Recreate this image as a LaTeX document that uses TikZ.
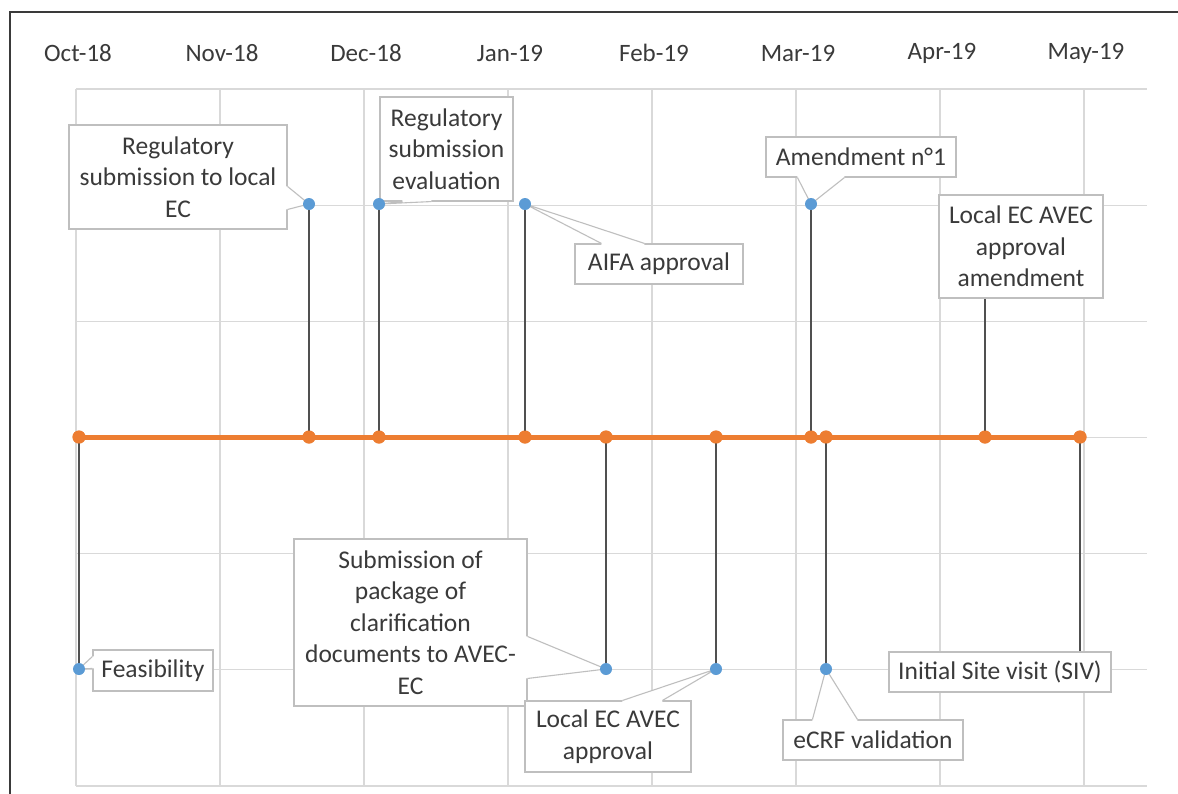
\documentclass[tikz,border=0pt]{standalone}
\usepackage{fontspec}
\setmainfont{Carlito}
\usetikzlibrary{calc}
\definecolor{orangeA}{HTML}{ED7D31}
\definecolor{blueA}{HTML}{5B9BD5}
\definecolor{gridA}{HTML}{D9D9D9}
\definecolor{boxA}{HTML}{BFBFBF}
\definecolor{stemA}{HTML}{505050}
\definecolor{txtA}{HTML}{3A3A3A}
\definecolor{frameA}{HTML}{3A3A3A}
\newcommand{\mycallptr}[4]{%
  \fill[white] ($(#1)+(#4)$) -- (#1) -- (#3) -- (#2) -- ($(#2)+(#4)$) -- cycle;
  \draw[ptr] (#1) -- (#3) -- (#2);}
\begin{document}
\begin{tikzpicture}[x=1pt,y=-1pt,
  gridline/.style={gridA, line width=1.2pt},
  month/.style={text=txtA, font=\fontsize{25}{30}\selectfont, inner sep=0pt},
  lbl/.style={draw=boxA, line width=1.1pt, fill=white, text=txtA, align=center,
    font=\fontsize{25.5}{31.5}\selectfont, inner sep=0pt},
  ptr/.style={draw=boxA, line width=1.1pt, line join=round},
  stem/.style={stemA, line width=1.5pt},
  axisline/.style={orangeA, line width=5pt},
  adot/.style={circle, fill=orangeA, minimum size=13pt, inner sep=0pt},
  bdot/.style={circle, fill=blueA, minimum size=11pt, inner sep=0pt}]
\useasboundingbox (0,0) rectangle (1178,793);
\clip (0,0) rectangle (1178,793);
\fill[white] (0,0) rectangle (1178,793);
% grid
\foreach \k in {0,...,7} \draw[gridline] (76+144*\k,89) -- (76+144*\k,786);
\foreach \k in {0,...,6} \draw[gridline] (76,89+116.17*\k) -- (1147,89+116.17*\k);
% frame
\draw[frameA, line width=2pt] (10,12) rectangle (1200,820);
% months
\foreach \m [count=\i from 0] in {Oct-18,Nov-18,Dec-18,Jan-19,Feb-19,Mar-19,Apr-19,May-19}
  \node[month] (m\i) at (78+144*\i,53) {\m};
% axis and blue points
\node[adot] (aFeas) at (79,437) {};
\node[adot] (aReg) at (309,437) {};
\node[adot] (aEval) at (379,437) {};
\node[adot] (aAifa) at (525,437) {};
\node[adot] (aSub) at (606,437) {};
\node[adot] (aLoc) at (716,437) {};
\node[adot] (aAmd) at (811,437) {};
\node[adot] (aEcrf) at (826,437) {};
\node[adot] (aLocAmd) at (985,437) {};
\node[adot] (aSiv) at (1080,437) {};
\coordinate (dReg) at (309,204);
\coordinate (dEval) at (379,204);
\coordinate (dAifa) at (525,204);
\coordinate (dAmd) at (811,204);
\coordinate (dFeas) at (79,669);
\coordinate (dSub) at (606,669);
\coordinate (dLoc) at (716,669);
\coordinate (dEcrf) at (826,669);
% labels
\node[lbl, minimum width=218pt, minimum height=104pt] (bReg) at (178,177) {Regulatory\\submission to local\\EC};
\node[lbl, minimum width=133pt, minimum height=104pt] (bEval) at (446.5,149) {Regulatory\\submission\\evaluation};
\node[lbl, minimum width=168pt, minimum height=40pt] (bAifa) at (659,264) {AIFA approval};
\node[lbl, minimum width=190pt, minimum height=40pt] (bAmd) at (861,157) {Amendment n°1};
\node[lbl, minimum width=164pt, minimum height=103pt] (bLocAmd) at (1021,246.5) {Local EC AVEC\\approval\\amendment};
\node[lbl, minimum width=120pt, minimum height=41pt] (bFeas) at (153,670.5) {Feasibility};
\node[lbl, minimum width=233pt, minimum height=167pt] (bSub) at (410.5,622.5) {Submission of\\package of\\clarification\\documents to AVEC-\\EC};
\node[lbl, minimum width=166pt, minimum height=71pt] (bLoc) at (608,736.5) {Local EC AVEC\\approval};
\node[lbl, minimum width=180pt, minimum height=40pt] (bEcrf) at (873,740) {eCRF validation};
\node[lbl, minimum width=222pt, minimum height=40pt] (bSiv) at (1000,672) {Initial Site visit (SIV)};
% pointers
\coordinate (pReg1) at ($(bReg.north east)+(0,62)$);
\coordinate (pReg2) at ($(bReg.north east)+(0,85)$);
\mycallptr{pReg1}{pReg2}{dReg}{-1.5,0}
\coordinate (pEval1) at ($(bEval.south west)+(23,0)$);
\coordinate (pEval2) at ($(bEval.south west)+(52,0)$);
\mycallptr{pEval1}{pEval2}{dEval}{0,-1.5}
\coordinate (pAifa1) at ($(bAifa.north west)+(27,0)$);
\coordinate (pAifa2) at ($(bAifa.north west)+(70,0)$);
\mycallptr{pAifa1}{pAifa2}{dAifa}{0,1.5}
\coordinate (pAmd1) at ($(bAmd.south west)+(32,0)$);
\coordinate (pAmd2) at ($(bAmd.south west)+(79,0)$);
\mycallptr{pAmd1}{pAmd2}{dAmd}{0,-1.5}
\coordinate (pFeas1) at ($(bFeas.north west)+(0,7)$);
\coordinate (pFeas2) at ($(bFeas.north west)+(0,19)$);
\mycallptr{pFeas1}{pFeas2}{dFeas}{1.5,0}
\coordinate (pSub1) at ($(bSub.north east)+(0,98)$);
\coordinate (pSub2) at ($(bSub.north east)+(0,140)$);
\mycallptr{pSub1}{pSub2}{dSub}{-1.5,0}
\coordinate (pLoc1) at ($(bLoc.north west)+(98,0)$);
\coordinate (pLoc2) at ($(bLoc.north west)+(138,0)$);
\mycallptr{pLoc1}{pLoc2}{dLoc}{0,1.5}
\coordinate (pEcrf1) at ($(bEcrf.north west)+(30,0)$);
\coordinate (pEcrf2) at ($(bEcrf.north west)+(75,0)$);
\mycallptr{pEcrf1}{pEcrf2}{dEcrf}{0,1.5}
% stems
\draw[stem] (aFeas.center) -- (dFeas);
\draw[stem] (aReg.center) -- (dReg);
\draw[stem] (aEval.center) -- (dEval);
\draw[stem] (aAifa.center) -- (dAifa);
\draw[stem] (aSub.center) -- (dSub);
\draw[stem] (aLoc.center) -- (dLoc);
\draw[stem] (aAmd.center) -- (dAmd);
\draw[stem] (aEcrf.center) -- (dEcrf);
\draw[stem] (aLocAmd.center) -- (aLocAmd |- bLocAmd.south);
\draw[stem] (aSiv.center) -- (aSiv |- bSiv.north);
% orange axis
\draw[axisline] (aFeas.center) -- (aSiv.center);
\foreach \n in {aFeas,aReg,aEval,aAifa,aSub,aLoc,aAmd,aEcrf,aLocAmd,aSiv}
  \fill[orangeA] (\n.center) circle (6.5);
\foreach \n in {dReg,dEval,dAifa,dAmd,dFeas,dSub,dLoc,dEcrf}
  \fill[blueA] (\n) circle (6);
\end{tikzpicture}
\end{document}
